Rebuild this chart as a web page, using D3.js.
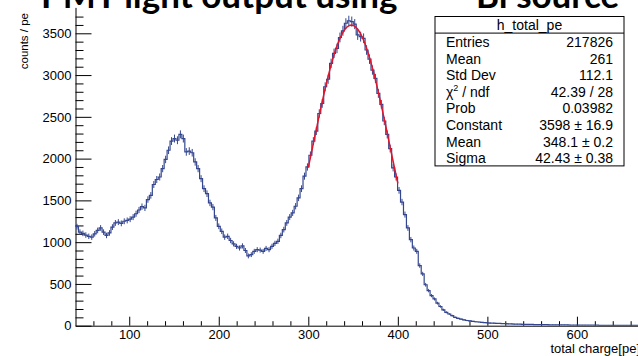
<!DOCTYPE html>
<html>
<head>
<meta charset="utf-8">
<script src="https://cdn.jsdelivr.net/npm/d3@7"></script>
<style>
  body { margin: 0; background: #fff; }
  svg { display: block; font-family: "Liberation Sans", Arial, sans-serif; }
</style>
</head>
<body>
<svg id="chart" width="638" height="356"></svg>
<script>
// histogram h_total_pe, bins of 3.3 pe starting at 40 pe
const binStart = 40
const binWidth = 3.3
const counts = [
  1185, 1120, 1105, 1085, 1070, 1060, 1100, 1140, 1170, 1120,
  1080, 1110, 1180, 1230, 1240, 1225, 1250, 1260, 1275, 1300,
  1340, 1385, 1425, 1410, 1510, 1560, 1690, 1750, 1780, 1880,
  1990, 2100, 2210, 2240, 2220, 2290, 2240, 2080, 2090, 2070,
  1960, 1880, 1760, 1640, 1580, 1470, 1420, 1290, 1190, 1130,
  1060, 1070, 1020, 980, 950, 930, 955, 900, 835, 850,
  890, 910, 905, 890, 925, 910, 950, 985, 1010, 1080,
  1150, 1230, 1300, 1350, 1430, 1530, 1640, 1790, 1900, 2040,
  2210, 2330, 2540, 2660, 2860, 2950, 3140, 3260, 3320, 3450,
  3530, 3620, 3650, 3640, 3610, 3480, 3460, 3440, 3300, 3190,
  3060, 2960, 2780, 2650, 2450, 2290, 2120, 1890, 1780, 1620,
  1480, 1330, 1170, 1030, 930, 890, 720, 620, 490, 420,
  360, 320, 270, 230, 190, 160, 140, 120, 100, 88,
  78, 70, 62, 58, 52, 47, 44, 40, 38, 35,
  32, 30, 28, 27, 25, 24, 22, 21, 20, 19,
  18, 17, 16, 16, 15, 14, 13, 13, 12, 12,
  11, 11, 10, 10, 9, 9, 9, 8, 8, 8,
  7, 7, 7, 6, 6, 6, 6, 5, 5, 5,
  5, 5, 4, 4, 4, 4, 4, 3, 3, 3, 3
]

const xMajor = [100, 200, 300, 400, 500, 600]
const yMajor = [0, 500, 1000, 1500, 2000, 2500, 3000, 3500]

// gaussian fit, from the stats box
const fitConstant = 3598
const fitMean = 348.1
const fitSigma = 42.43
const fitRange = [300, 400]

const statLabels = ["Entries", "Mean", "Std Dev", "chi2", "Prob", "Constant", "Mean", "Sigma"]
const statValues = ["217826", "261", "112.1", "42.39 / 28", "0.03982", "3598 \u00b1 16.9", "348.1 \u00b1 0.2", "42.43 \u00b1 0.38"]

const svg = d3.select("#chart")

const x = d3.scaleLinear().domain([40, 670]).range([75.5, 639.6])
const y = d3.scaleLinear().domain([0, 3810]).range([325.7, 7.4])

// slide title behind, mostly cut off at the top
svg.append("text")
  .attr("x", 41).attr("y", 7.5)
  .attr("font-family", "Lato, 'Open Sans', sans-serif")
  .attr("font-weight", 700)
  .attr("font-size", 35)
  .attr("fill", "#000")
  .call(t => {
    t.append("tspan").text("PMT light output using ")
    t.append("tspan").attr("font-size", 24).attr("dy", -14).text("207")
    t.append("tspan").attr("x", 476).attr("dy", 14).text("Bi source")
  })

svg.append("clipPath").attr("id", "plotclip")
  .append("rect")
  .attr("x", x(40)).attr("y", y(3810))
  .attr("width", x(670) - x(40)).attr("height", y(0) - y(3810))

// minor ticks first
svg.append("g")
  .attr("transform", "translate(0," + y(0) + ")")
  .call(d3.axisBottom(x).tickValues(d3.range(60, 670, 20).filter(v => v % 100 != 0)).tickSize(-4.5).tickSizeOuter(0).tickFormat(""))
  .call(g => g.select(".domain").remove())

svg.append("g")
  .attr("transform", "translate(" + x(40) + ",0)")
  .call(d3.axisLeft(y).tickValues(d3.range(100, 3800, 100).filter(v => v % 500 != 0)).tickSize(-8).tickSizeOuter(0).tickFormat(""))
  .call(g => g.select(".domain").remove())

svg.append("g")
  .attr("class", "axis")
  .attr("transform", "translate(0," + y(0) + ")")
  .call(d3.axisBottom(x).tickValues(xMajor).tickSize(-9).tickSizeOuter(0).tickPadding(4).tickFormat(d3.format("d")))

svg.append("g")
  .attr("class", "axis")
  .attr("transform", "translate(" + x(40) + ",0)")
  .call(d3.axisLeft(y).tickValues(yMajor).tickSize(-16).tickSizeOuter(0).tickPadding(4).tickFormat(d3.format("d")))

svg.selectAll(".tick line").attr("stroke", "#000")
svg.selectAll(".domain").attr("stroke", "#000")
svg.selectAll(".axis text")
  .attr("font-family", "Liberation Sans, Arial, sans-serif")
  .attr("font-size", 13)
  .attr("fill", "#000")

// axis titles
svg.append("text")
  .attr("x", 640).attr("y", 353)
  .attr("text-anchor", "end")
  .attr("font-size", 13)
  .text("total charge[pe]")

svg.append("text")
  .attr("transform", "translate(27.5,13) rotate(-90)")
  .attr("text-anchor", "end")
  .attr("font-size", 11.5)
  .text("counts / pe")

// histogram
let bins = counts.map((c, i) => ({
  x0: binStart + i * binWidth,
  x1: binStart + (i + 1) * binWidth,
  c: c
}))

let steps = []
bins.forEach(b => { steps.push([b.x0, b.c]); steps.push([b.x1, b.c]) })

const plot = svg.append("g").attr("clip-path", "url(#plotclip)")

plot.append("path")
  .datum(steps)
  .attr("fill", "none")
  .attr("stroke", "#34468f")
  .attr("stroke-width", 1.2)
  .attr("d", d3.line().x(d => x(d[0])).y(d => y(d[1])))

plot.selectAll(".err").data(bins).enter().append("line")
  .attr("class", "err")
  .attr("x1", d => x((d.x0 + d.x1) / 2))
  .attr("x2", d => x((d.x0 + d.x1) / 2))
  .attr("y1", d => y(d.c - Math.sqrt(d.c)))
  .attr("y2", d => y(d.c + Math.sqrt(d.c)))
  .attr("stroke", "#34468f")
  .attr("stroke-width", 1)

// fit curve
const gaus = v => fitConstant * Math.exp(-0.5 * Math.pow((v - fitMean) / fitSigma, 2))
plot.append("path")
  .datum(d3.range(fitRange[0], fitRange[1] + 0.5, 1))
  .attr("fill", "none")
  .attr("stroke", "#e3142a")
  .attr("stroke-width", 1.5)
  .attr("d", d3.line().x(d => x(d)).y(d => y(gaus(d))))

// stats box
const box = { left: 435, top: 16.5, width: 189, rowH: 16.6 }
const stats = svg.append("g")

stats.append("rect")
  .attr("x", box.left).attr("y", box.top)
  .attr("width", box.width).attr("height", box.rowH * 9)
  .attr("fill", "#fff").attr("stroke", "#000").attr("stroke-width", 1)

stats.append("line")
  .attr("x1", box.left).attr("x2", box.left + box.width)
  .attr("y1", box.top + box.rowH).attr("y2", box.top + box.rowH)
  .attr("stroke", "#000")

stats.append("text")
  .attr("x", box.left + box.width / 2)
  .attr("y", box.top + box.rowH / 2 + 5)
  .attr("text-anchor", "middle")
  .attr("font-size", 14)
  .text("h_total_pe")

statLabels.forEach((lab, i) => {
  let ty = box.top + box.rowH * (i + 1.5) + 5.5
  let t = stats.append("text")
    .attr("x", box.left + 11).attr("y", ty)
    .attr("font-size", 14)
  if (lab == "chi2") {
    t.append("tspan").text("\u03c7")
    t.append("tspan").attr("font-size", 9).attr("dy", -6).text("2")
    t.append("tspan").attr("dy", 6).text(" / ndf")
  } else {
    t.text(lab)
  }
  stats.append("text")
    .attr("x", box.left + 178).attr("y", ty)
    .attr("text-anchor", "end")
    .attr("font-size", 14)
    .text(statValues[i])
})
</script>
</body>
</html>
